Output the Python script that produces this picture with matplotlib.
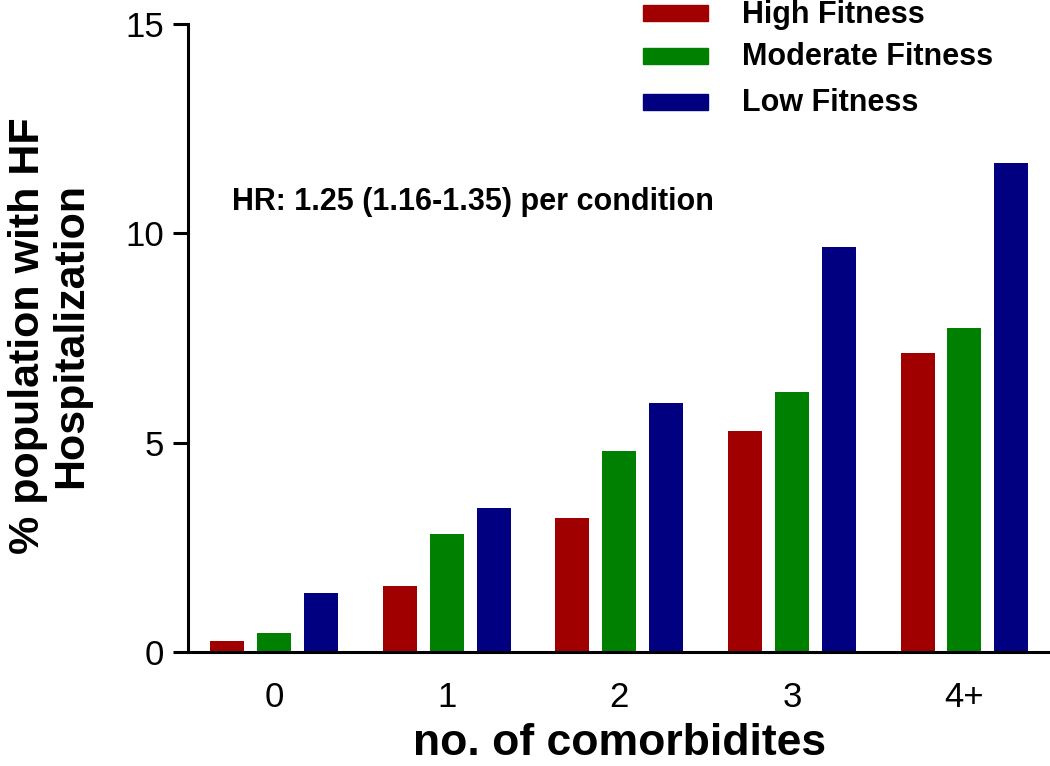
import matplotlib
matplotlib.use("Agg")
import matplotlib.pyplot as plt
from matplotlib.patches import Rectangle
import numpy as np

categories = ["0", "1", "2", "3", "4+"]
series_names = ["High Fitness", "Moderate Fitness", "Low Fitness"]
high_fitness = [0.26, 1.57, 3.20, 5.27, 7.15]
moderate_fitness = [0.45, 2.81, 4.79, 6.22, 7.75]
low_fitness = [1.41, 3.43, 5.94, 9.68, 11.69]
colors = ["#A00000", "#008000", "#000080"]
yticks = [0, 5, 10, 15]

plt.rcParams['font.family'] = ['Liberation Sans', 'DejaVu Sans']

W, H = 1050, 766
fig = plt.figure(figsize=(W/100, H/100), dpi=100)
ax = fig.add_axes([188/W, 114/H, (W-188)/W, (742-114)/H])

x = np.arange(len(categories))
width = 0.197
offset = 0.272
for i, (vals, c) in enumerate(zip([high_fitness, moderate_fitness, low_fitness], colors)):
    ax.bar(x + (i - 1) * offset, vals, width=width, color=c, edgecolor='none')

ax.set_xlim(-0.5, (W - 274.5) / 172.5)
ax.set_ylim(0, 15)
ax.set_yticks(yticks)
ax.set_xticks(x)
ax.set_xticklabels(categories)
ax.tick_params(axis='y', length=11, width=2.2, labelsize=25, pad=6)
ax.tick_params(axis='x', length=0, labelsize=25, pad=21)
for s in ['top', 'right']:
    ax.spines[s].set_visible(False)
for s in ['left', 'bottom']:
    ax.spines[s].set_linewidth(2.2)

fig.text(620/W, 1 - 764/H, "no. of comorbidites", fontsize=32, fontweight='bold',
         ha='center', va='bottom')
fig.text(50/W, 1 - 336/H, "% population with HF\nHospitalization", rotation=90,
         fontsize=31, fontweight='bold', ha='center', va='center', linespacing=1.1,
         multialignment='center')

fig.text(232/W, 1 - 210/H, "HR: 1.25 (1.16-1.35) per condition",
         fontsize=22, fontweight='bold', ha='left', va='baseline')

legend_patch_y = [13, 56, 102]
legend_text_base = [23, 65, 111]
for name, c, yy, tb in zip(series_names, colors, legend_patch_y, legend_text_base):
    fig.patches.append(Rectangle((643/W, 1 - (yy + 8)/H), 65/W, 16/H,
                                 transform=fig.transFigure, color=c, figure=fig))
    fig.text(742/W, 1 - tb/H, name, fontsize=22, fontweight='bold', ha='left', va='baseline')

fig.savefig("out.png", dpi=100)
